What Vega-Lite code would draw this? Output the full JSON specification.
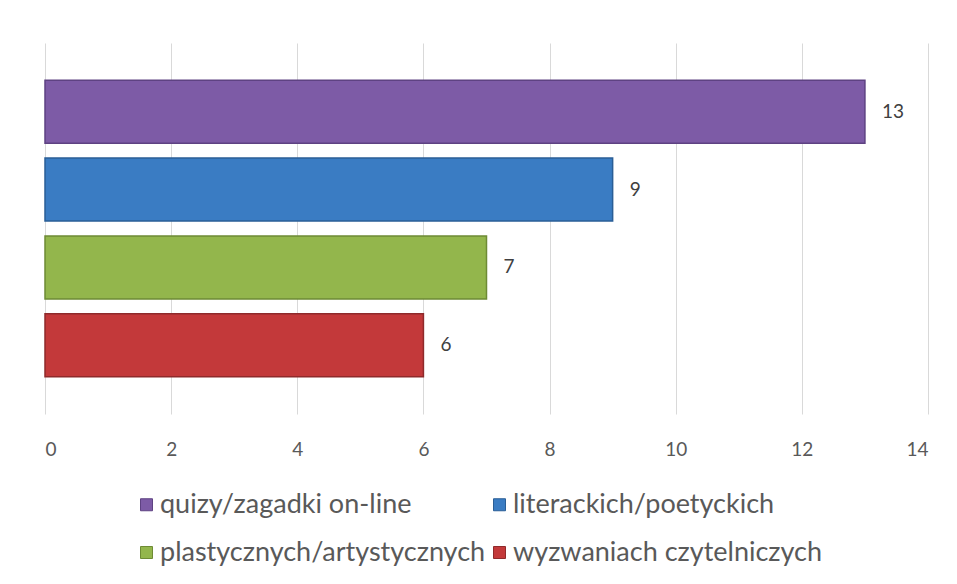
{
  "$schema": "https://vega.github.io/schema/vega-lite/v6.json",
  "autosize": "none",
  "width": 883,
  "height": 371,
  "padding": {"left": 45, "top": 43, "right": 29, "bottom": 170},
  "background": "white",
  "data": {"values": [
    {"kategoria": "quizy/zagadki on-line", "liczba": 13},
    {"kategoria": "literackich/poetyckich", "liczba": 9},
    {"kategoria": "plastycznych/artystycznych", "liczba": 7},
    {"kategoria": "wyzwaniach czytelniczych", "liczba": 6}
  ]},
  "encoding": {
    "y": {
      "field": "kategoria", "type": "nominal",
      "sort": ["quizy/zagadki on-line", "literackich/poetyckich", "plastycznych/artystycznych", "wyzwaniach czytelniczych"],
      "scale": {"paddingInner": 0.19, "paddingOuter": 0.48},
      "axis": null
    },
    "x": {
      "field": "liczba", "type": "quantitative",
      "scale": {"domain": [0, 14], "nice": false},
      "axis": {
        "values": [0, 2, 4, 6, 8, 10, 12, 14],
        "title": null,
        "domain": false,
        "ticks": false,
        "grid": true,
        "gridColor": "#d9d9d9",
        "gridWidth": 1,
        "labelFont": "Lato",
        "labelFontSize": 19,
        "labelColor": "#595959",
        "labelPadding": 26
      }
    }
  },
  "layer": [
    {
      "mark": {"type": "bar", "strokeWidth": 1.5},
      "encoding": {
        "color": {
          "field": "kategoria", "type": "nominal",
          "scale": {
            "domain": ["quizy/zagadki on-line", "literackich/poetyckich", "plastycznych/artystycznych", "wyzwaniach czytelniczych"],
            "range": ["#7D5BA6", "#3A7CC3", "#93B64C", "#C3393A"]
          },
          "legend": {
            "orient": "none",
            "legendX": 88,
            "legendY": 448,
            "direction": "horizontal",
            "columns": 2,
            "title": null,
            "symbolType": "square",
            "symbolSize": 144,
            "symbolStrokeWidth": 1,
            "symbolStrokeColor": "#555555",
            "labelFont": "Lato",
            "labelFontSize": 27,
            "labelColor": "#595959",
            "labelOffset": 0,
            "labelLimit": 450,
            "columnPadding": 0,
            "rowPadding": 20
          }
        },
        "stroke": {
          "field": "kategoria", "type": "nominal",
          "scale": {
            "domain": ["quizy/zagadki on-line", "literackich/poetyckich", "plastycznych/artystycznych", "wyzwaniach czytelniczych"],
            "range": ["#5E4282", "#2A5E96", "#6E8B35", "#8F2A2B"]
          },
          "legend": null
        }
      }
    },
    {
      "mark": {"type": "text", "align": "left", "baseline": "middle", "dx": 17, "font": "Lato", "fontSize": 19, "color": "#404040"},
      "encoding": {
        "text": {"field": "liczba", "type": "quantitative"}
      }
    }
  ],
  "config": {"view": {"stroke": null}}
}
